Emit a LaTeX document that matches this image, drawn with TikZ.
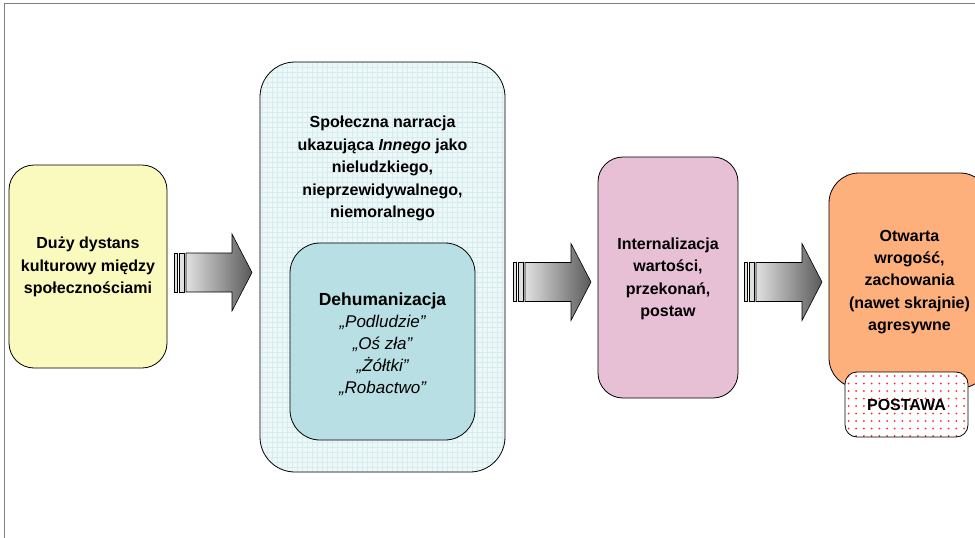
\documentclass[tikz,border=0pt]{standalone}
\usepackage{fontspec}
\setmainfont{Liberation Sans}
\usetikzlibrary{calc}
\definecolor{yel}{RGB}{250,250,190}
\definecolor{cyanbg}{RGB}{238,248,249}
\definecolor{cyangrid}{RGB}{214,237,240}
\definecolor{teal1}{RGB}{184,223,227}
\definecolor{pink1}{RGB}{232,192,214}
\definecolor{orange1}{RGB}{253,176,124}
\definecolor{framegray}{RGB}{128,128,128}
\newcommand{\myblockarrow}[2]{%
  \draw[barstyle] (#1,#2-19.5) rectangle (#1+3,#2+19.5);
  \draw[barstyle] (#1+5,#2-19.5) rectangle (#1+10,#2+19.5);
  \draw[arrowbody] (#1+12,#2-19.5) -- (#1+58,#2-19.5) -- (#1+58,#2-38.5) -- (#1+78,#2)
     -- (#1+58,#2+38.5) -- (#1+58,#2+19.5) -- (#1+12,#2+19.5) -- cycle;}
\begin{document}
\begin{tikzpicture}[x=1pt,y=-1pt,
  box/.style={draw=black, line width=0.8pt, inner sep=0pt, rectangle},
  txt/.style={align=center, inner sep=0pt, font=\fontsize{16}{22.4}\selectfont\bfseries},
  barstyle/.style={draw=black, line width=0.6pt, fill=black!12},
  arrowbody/.style={draw=black, line width=0.6pt, left color=black!12, right color=black!65}
]
\clip (0,0) rectangle (975,538);
\fill[white] (0,0) rectangle (975,538);
\draw[framegray, line width=1pt] (4.5,538) -- (4.5,3.5) -- (975,3.5);

% box 1
\node[box, fill=yel, rounded corners=25pt, minimum width=158pt, minimum height=203pt] (b1) at (88,266.5) {};
\node[txt] (t1) at (88,267) {Duży dystans\\kulturowy między\\społecznościami};

% box 2 with grid
\node[box, fill=cyanbg, rounded corners=35pt, minimum width=245pt, minimum height=410pt,
  path picture={\draw[cyangrid, line width=0.4pt, step=5pt] (path picture bounding box.south west) grid (path picture bounding box.north east);}] (b2) at (382.5,267) {};
\node[txt] (t2) at (382.5,168.5) {Społeczna narracja\\ukazująca \textit{Innego} jako\\nieludzkiego,\\nieprzewidywalnego,\\niemoralnego};

% inner box
\node[box, fill=teal1, rounded corners=30pt, minimum width=185pt, minimum height=197pt] (b2i) at (382.5,341.5) {};
\node[align=center, inner sep=0pt, font=\fontsize{17}{22}\selectfont\itshape] (t2i) at (382.5,344)
  {{\fontsize{17.5}{22}\selectfont\bfseries\upshape Dehumanizacja}\\„Podludzie”\\„Oś zła”\\„Żółtki”\\„Robactwo”};

% box 3
\node[box, fill=pink1, rounded corners=25pt, minimum width=140pt, minimum height=241pt] (b3) at (668,277.5) {};
\node[txt] (t3) at (668,279) {Internalizacja\\wartości,\\przekonań,\\postaw};

% box 4
\node[box, fill=orange1, rounded corners=30pt, minimum width=161pt, minimum height=215pt] (b4) at (909.5,280.5) {};
\node[txt] (t4) at (909.5,282) {Otwarta\\wrogość,\\zachowania\\(nawet skrajnie)\\agresywne};

% POSTAWA
\node[box, fill=white, rounded corners=12pt, minimum width=123pt, minimum height=65pt,
  font=\fontsize{16}{19}\selectfont\bfseries,
  path picture={\foreach \i in {0,...,16}{\foreach \j in {0,...,9}{\fill[red!85] ($(path picture bounding box.north west)+(3.5+\i*7.7,4+\j*7.5)$) circle (1pt);}}}] (b5) at (906.5,404.5) {POSTAWA};

% block arrows
\myblockarrow{174}{272.5}
\myblockarrow{513}{282}
\myblockarrow{744}{282}
\end{tikzpicture}
\end{document}
